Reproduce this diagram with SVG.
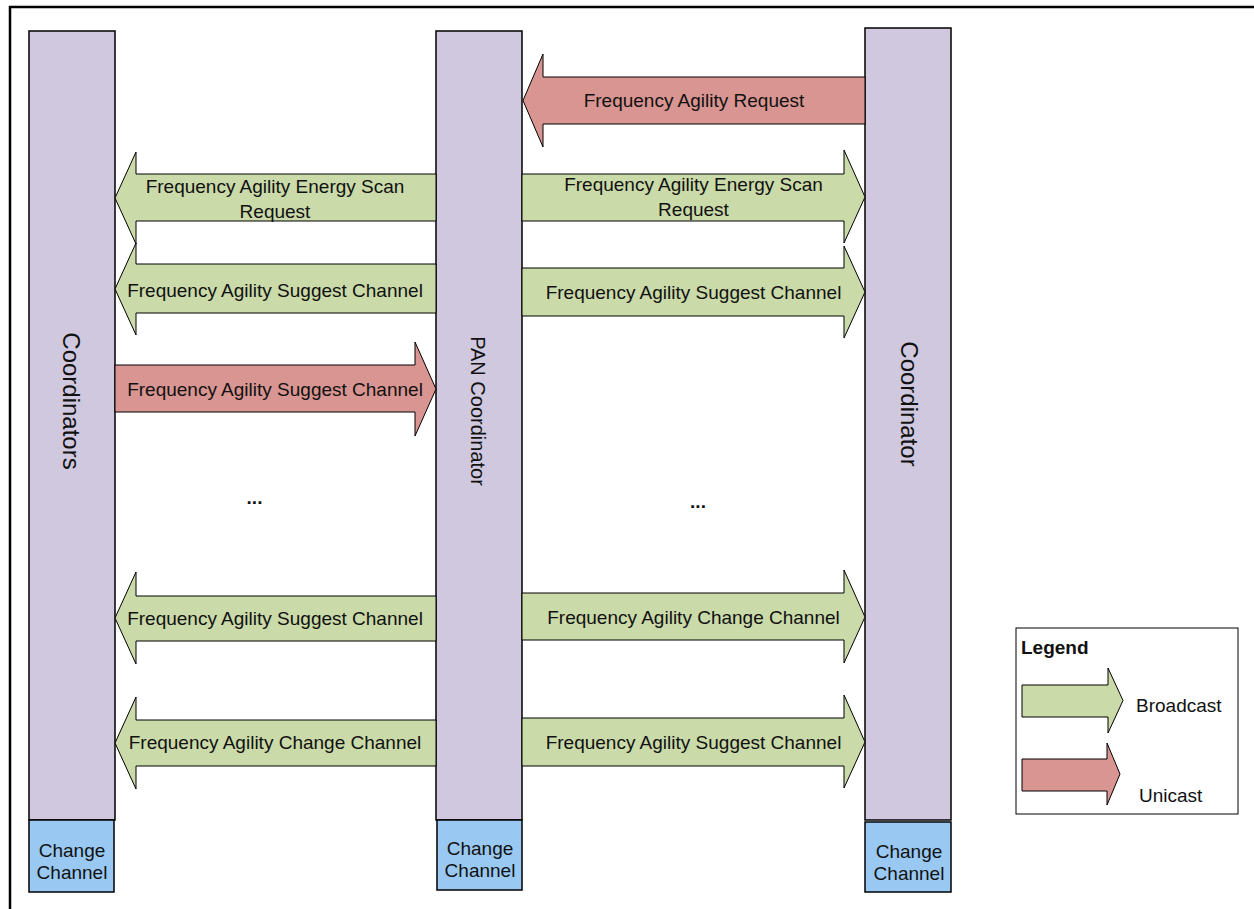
<svg xmlns="http://www.w3.org/2000/svg" width="1254" height="909" viewBox="0 0 1254 909">
<style>
.bar{fill:#D0C8DE;stroke:#000;stroke-width:1.5}
.cc{fill:#99C9F3;stroke:#000;stroke-width:1.5}
.bc{fill:#CADAA9;stroke:#000;stroke-width:1}
.uc{fill:#D99592;stroke:#000;stroke-width:1}
text{font-family:"Liberation Sans",Arial,sans-serif;font-size:19px;fill:#111}
.m{text-anchor:middle}
.v{font-size:24px}
.b{font-weight:bold}
</style>
<rect x="10" y="7" width="1270" height="930" fill="#fff" stroke="#000" stroke-width="2.5"/>
<g id="coordinators">
<rect class="bar" x="29" y="31" width="86" height="789"/>
<text class="v m" transform="translate(63,401) rotate(90)">Coordinators</text>
</g>
<g id="pan-coordinator">
<rect class="bar" x="436" y="31" width="86" height="789"/>
<text class="m" style="font-size:20px" transform="translate(471,411) rotate(90)">PAN Coordinator</text>
</g>
<g id="coordinator">
<rect class="bar" x="865" y="28" width="86" height="792"/>
<text class="v m" transform="translate(901,404) rotate(90)">Coordinator</text>
</g>
<g id="cc-left">
<rect class="cc" x="29" y="820" width="85" height="72"/>
<text class="m" x="72" y="857">Change</text>
<text class="m" x="72" y="879">Channel</text>
</g>
<g id="cc-pan">
<rect class="cc" x="437" y="820" width="85" height="70"/>
<text class="m" x="480" y="855">Change</text>
<text class="m" x="480" y="877">Channel</text>
</g>
<g id="cc-right">
<rect class="cc" x="865" y="822" width="86" height="70"/>
<text class="m" x="909" y="858">Change</text>
<text class="m" x="909" y="880">Channel</text>
</g>
<g id="connectors">
<g id="a1"><polygon class="uc" points="865,77 543,77 543,54 523,100.5 543,147 543,124 865,124"/><text class="m" x="694" y="107">Frequency Agility Request</text></g>
<g id="a2"><polygon class="bc" points="436,174 136,174 136,152 115,198 136,244 136,221 436,221"/><text class="m" x="275" y="193">Frequency Agility Energy Scan</text><text class="m" x="275" y="217.5">Request</text></g>
<g id="a3"><polygon class="bc" points="522,174 844,174 844,150 865,197 844,243 844,221 522,221"/><text class="m" x="693.5" y="191">Frequency Agility Energy Scan</text><text class="m" x="693.5" y="216">Request</text></g>
<g id="a4"><polygon class="bc" points="436,264 136,264 136,243 115,289 136,335 136,313 436,313"/><text class="m" x="275" y="296.5">Frequency Agility Suggest Channel</text></g>
<g id="a5"><polygon class="bc" points="522,268 844,268 844,246 865,292 844,338 844,316 522,316"/><text class="m" x="693.5" y="299">Frequency Agility Suggest Channel</text></g>
<g id="a6"><polygon class="uc" points="115,365 415,365 415,342 436,389 415,436 415,412 115,412"/><text class="m" x="275" y="395.5">Frequency Agility Suggest Channel</text></g>
<g id="a7"><polygon class="bc" points="436,596 136,596 136,572 115,618 136,664 136,641 436,641"/><text class="m" x="275" y="625">Frequency Agility Suggest Channel</text></g>
<g id="a8"><polygon class="bc" points="522,593 844,593 844,570 865,617 844,663 844,640 522,640"/><text class="m" x="693.5" y="623.5">Frequency Agility Change Channel</text></g>
<g id="a9"><polygon class="bc" points="436,720 136,720 136,697 115,743 136,789 136,766 436,766"/><text class="m" x="275" y="749">Frequency Agility Change Channel</text></g>
<g id="a10"><polygon class="bc" points="522,718 844,718 844,695 865,742 844,788 844,766 522,766"/><text class="m" x="693.5" y="749">Frequency Agility Suggest Channel</text></g>
<text class="m b" x="254.5" y="504">...</text>
<text class="m b" x="698" y="508">...</text>
</g>
<g id="legend">
<rect x="1016" y="628" width="222" height="186" fill="#fff" stroke="#000" stroke-width="1"/>
<text class="b" x="1021" y="654">Legend</text>
<polygon class="bc" points="1022,685 1108,685 1108,668 1123,700.5 1108,733 1108,717 1022,717"/>
<text x="1136" y="711.5">Broadcast</text>
<polygon class="uc" points="1022,759 1107,759 1107,743 1120,774 1107,805 1107,791 1022,791"/>
<text x="1139" y="802">Unicast</text>
</g>
</svg>
